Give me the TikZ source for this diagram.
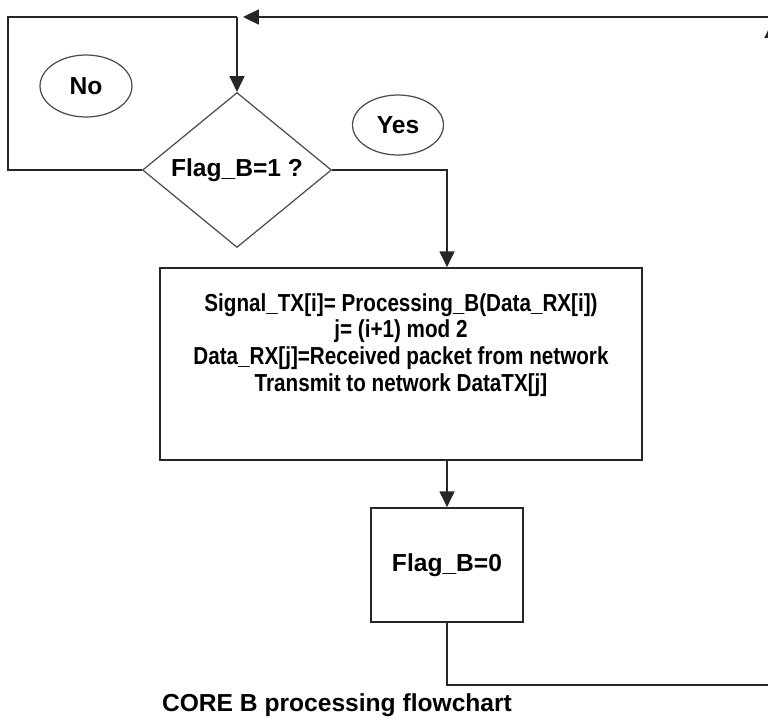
\documentclass[tikz,border=0pt]{standalone}
\usepackage{fontspec}
\setmainfont{Liberation Sans}
\newfontfamily\narrowfont{Liberation Sans}[FakeStretch=0.84]
\usepackage{tikz}
\usetikzlibrary{shapes.geometric,arrows.meta}

\begin{document}
\begin{tikzpicture}[x=0.02cm, y=-0.02cm,
  font=\fontsize{14}{15.3}\selectfont\bfseries,
  line/.style={draw=black!85, line width=1pt},
  arrow/.style={line, -{Triangle[length=9pt,width=8.5pt]}},
  box/.style={draw=black!85, line width=1pt, inner sep=0pt},
  decision/.style={diamond, draw=black!70, line width=0.7pt, inner sep=0pt,
                   minimum width=3.78cm, minimum height=3.0cm},
  answer/.style={ellipse, draw=black!70, line width=0.7pt, inner sep=0pt}]

\useasboundingbox (0,0) rectangle (768,721);

\node[decision] (flag) at (237,170) {Flag\_B=1 ?};

\node[answer, minimum width=1.84cm, minimum height=1.24cm] (no) at (86,86) {No};
\node[answer, minimum width=1.82cm, minimum height=1.2cm] (yes) at (398,125) {Yes};

\node[box, minimum width=9.64cm, minimum height=3.84cm] (proc) at (401,364) {};
\node[align=center, font=\narrowfont\fontsize{14}{15.3}\selectfont\bfseries] (proctxt) at (401,345)
  {Signal\_TX[i]= Processing\_B(Data\_RX[i])\\
  j= (i+1) mod 2\\
  Data\_RX[j]=Received packet from network\\
  Transmit to network DataTX[j]};

\node[box, minimum width=3.04cm, minimum height=2.28cm] (flagz) at (447,565) {Flag\_B=0};

\coordinate (topleft) at (8,17);
\coordinate (junc) at (237,17);
\coordinate (topright) at (772,17);
\coordinate (botright) at (772,685);

\node (caption) at (337,705) {CORE B processing flowchart};

% loop back to the test
\draw[line] (flag.west) -| (topleft) -- (junc);
\draw[arrow] (junc) -- (flag.north);
\draw[arrow, shorten >=0.12cm] (topright) -- (junc);

% yes branch
\draw[arrow] (flag.east) -| (flagz |- proc.north);
\draw[arrow] (flagz |- proc.south) -- (flagz.north);
\draw[arrow, shorten >=0.1cm] (flagz.south) |- (botright) -- (topright);

\end{tikzpicture}
\end{document}
